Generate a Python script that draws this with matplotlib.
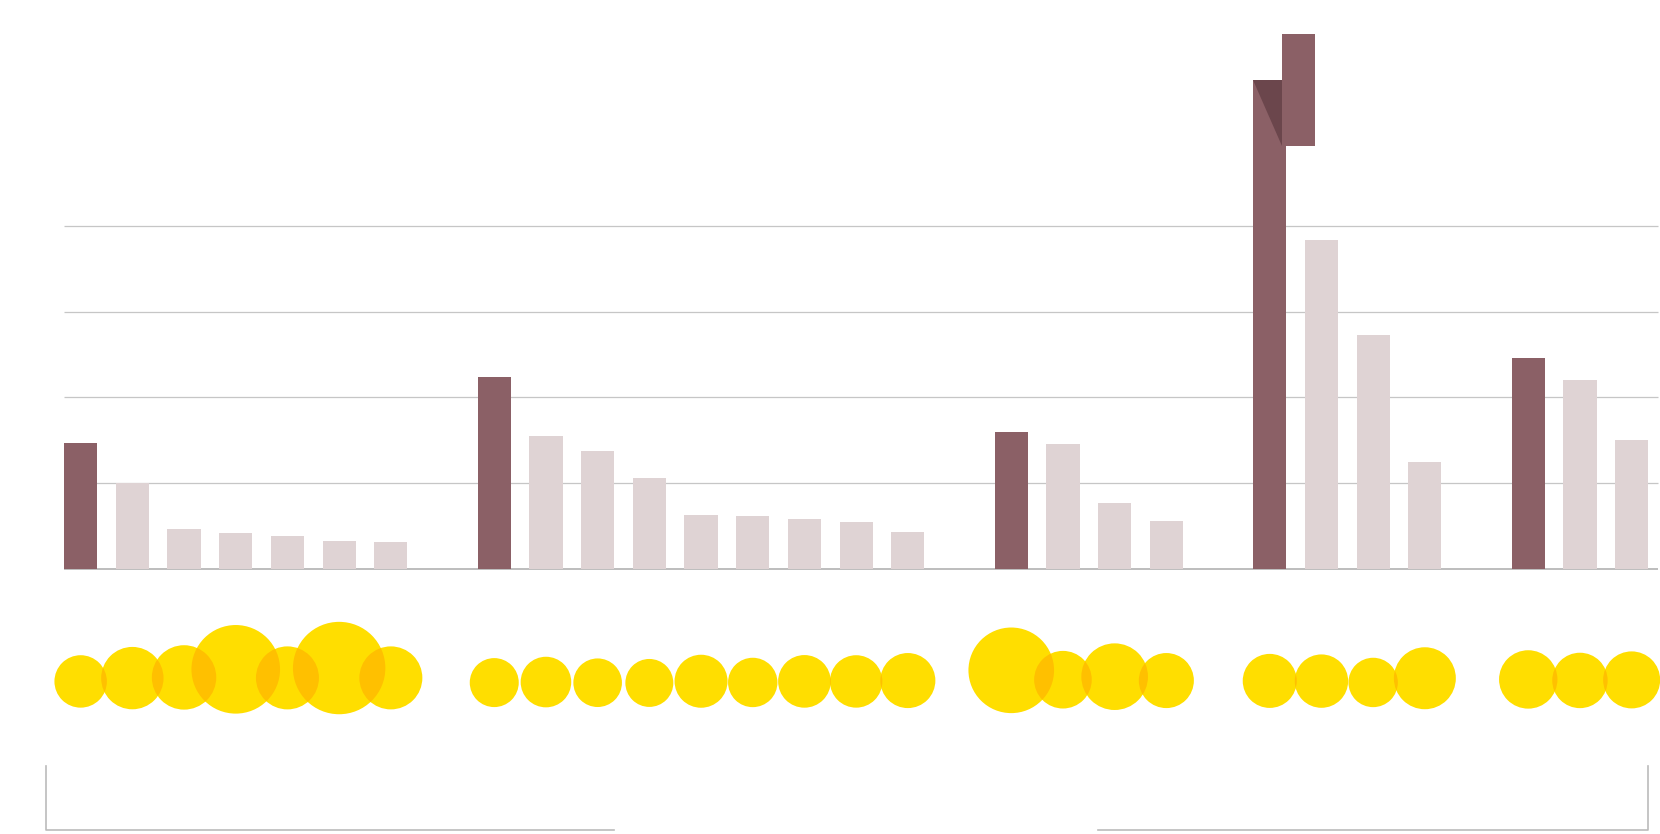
import matplotlib
matplotlib.use('Agg')
import matplotlib.pyplot as plt
from matplotlib.patches import Ellipse, Polygon
import numpy as np

# ------------ Data ---------------
# bar values per group (first bar of each group is the highlighted one)
group_1 = [14.7, 10.0, 4.65, 4.15, 3.85, 3.25, 3.2]
group_2 = [22.4, 15.5, 13.75, 10.55, 6.35, 6.2, 5.85, 5.5, 4.35]
group_3 = [15.95, 14.6, 7.7, 5.6]
group_4 = [57.0, 38.4, 27.3, 12.5]
group_5 = [24.6, 22.0, 15.0]

# group 4 highlighted bar runs off the scale: overflow piece drawn beside it
overflow_lo = 49.3
overflow_hi = 62.35

# bubble values (area) under each bar
bubbles_1 = [27.5, 38.9, 41.5, 78.5, 39.7, 85.4, 39.7]
bubbles_2 = [24.0, 25.6, 23.6, 23.0, 28.1, 24.4, 27.7, 27.5, 30.3]
bubbles_3 = [73.3, 33.2, 44.4, 30.3]
bubbles_4 = [29.2, 28.5, 24.4, 38.4]
bubbles_5 = [34.1, 30.7, 32.5]

gridlines = [10, 20, 30, 40]

groups = [group_1, group_2, group_3, group_4, group_5]
bubbles = [bubbles_1, bubbles_2, bubbles_3, bubbles_4, bubbles_5]

# ------------ Style ---------------
DARK = '#8b6066'
LIGHT = '#dfd3d4'
FOLD = '#6b464c'
YELLOW = '#ffde00'
OVERLAP = '#ffc000'
GRID = '#c6c6c6'

W, H = 1660, 834
PX_X = 51.70    # px per slot
PX_Y = 8.58     # px per value unit
X0 = 80.65      # px of slot 0 centre
Y0 = 569        # px of baseline
BAR_W = 0.644

fig = plt.figure(figsize=(W / 100, H / 100), dpi=100)
ax = fig.add_axes([0, 0, 1, 1])
ax.set_xlim(-X0 / PX_X, (W - X0) / PX_X)
ax.set_ylim(-(H - Y0) / PX_Y, Y0 / PX_Y)
ax.axis('off')

# slot positions: one empty slot between groups
slots = []
pos = 0
for g in groups:
    slots.append(np.arange(pos, pos + len(g)))
    pos += len(g) + 1

x_left = slots[0][0] - BAR_W / 2
x_right = (1658 - X0) / PX_X

ax.hlines(gridlines, x_left, x_right, color=GRID, lw=0.9, zorder=1)
ax.hlines(0, x_left, x_right, color='#b8b8b8', lw=1.3, zorder=1)

# ------------ Bars ---------------
for xs, vals in zip(slots, groups):
    colors = [DARK] + [LIGHT] * (len(vals) - 1)
    ax.bar(xs, vals, width=BAR_W, color=colors, zorder=2)

# overflow piece for the clipped bar
bx = slots[3][0]
shift = 29 / PX_X
ax.bar(bx + shift, overflow_hi - overflow_lo, bottom=overflow_lo,
       width=BAR_W, color=DARK, zorder=3)
left = bx - BAR_W / 2
ax.add_patch(Polygon([(left, group_4[0]), (left + shift, group_4[0]),
                      (left + shift, overflow_lo)], closed=True,
                     color=FOLD, lw=0, zorder=4))

# ------------ Bubbles ---------------
circles = []
for xs, vals in zip(slots, bubbles):
    for x, v in zip(xs, vals):
        r = 5 * np.sqrt(v)                 # radius in px
        cy = 699 - 0.67 * r                # px from top
        y = (Y0 - cy) / PX_Y
        e = Ellipse((x, y), 2 * r / PX_X, 2 * r / PX_Y,
                    color=YELLOW, lw=0, zorder=5)
        ax.add_patch(e)
        circles.append((x, r, e))

# darker lens where neighbouring bubbles overlap
for i in range(len(circles) - 1):
    xa, ra, ea = circles[i]
    xb, rb, eb = circles[i + 1]
    if (xb - xa) * PX_X < ra + rb:
        lens = Ellipse(eb.center, eb.width, eb.height, color=OVERLAP,
                       lw=0, zorder=6)
        ax.add_patch(lens)
        lens.set_clip_path(ea)

# ------------ Brackets ---------------
def fx(px):
    return px / W

def fy(py):
    return 1 - py / H

ax.plot([fx(46.3), fx(46.3), fx(614)], [fy(766), fy(830), fy(830)],
        color='#bbbbbb', lw=1.2, transform=ax.transAxes, clip_on=False)
ax.plot([fx(1098), fx(1648), fx(1648)], [fy(830), fy(830), fy(766)],
        color='#bbbbbb', lw=1.2, transform=ax.transAxes, clip_on=False)

fig.savefig('out.png', dpi=100, facecolor='white')
